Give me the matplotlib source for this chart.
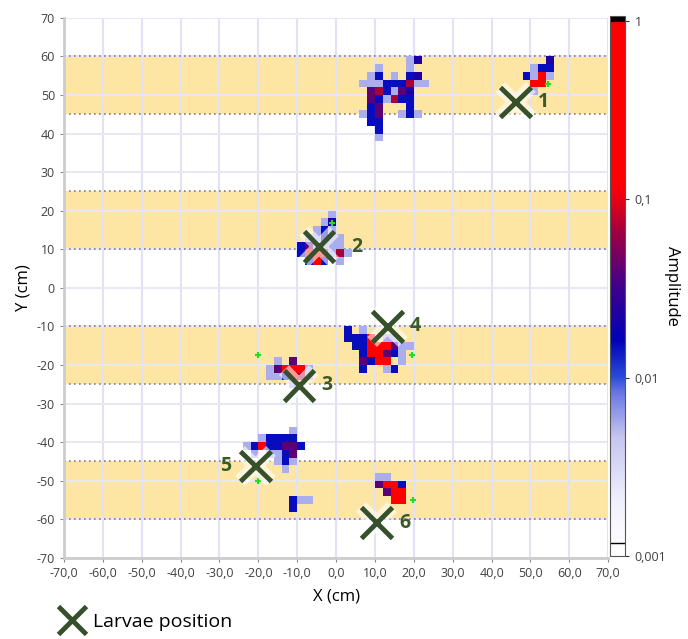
import numpy as np
import matplotlib
matplotlib.use("Agg")
import matplotlib.pyplot as plt
from matplotlib.colors import LinearSegmentedColormap, LogNorm
from matplotlib.lines import Line2D
import matplotlib.patheffects as pe

plt.rcParams['font.family'] = ['Open Sans', 'DejaVu Sans']

# amplitude levels used for the cells
LB = 0.0055  # light blue
B = 0.015    # blue
DB = 0.022   # dark blue
P = 0.04     # purple
DR = 0.07    # dark red
R = 0.3      # red

# cells: (x lower edge, y lower edge, amplitude), 2 cm grid
cells_top = [(18, 58, LB), (20, 58, DB),
             (10, 56, LB), (18, 56, LB),
             (8, 54, LB), (10, 54, B), (14, 54, LB), (18, 54, B), (20, 54, DB),
             (6, 52, LB), (8, 52, LB), (10, 52, LB), (12, 52, B), (14, 52, B), (16, 52, B),
             (18, 52, DR), (20, 52, LB), (22, 52, LB),
             (8, 50, P), (10, 50, DR), (12, 50, B), (14, 50, LB), (16, 50, P), (18, 50, DB),
             (8, 48, P), (10, 48, B), (12, 48, LB), (14, 48, DR), (16, 48, B), (18, 48, B),
             (8, 46, B), (10, 46, P), (18, 46, B),
             (6, 44, LB), (8, 44, B), (10, 44, P), (16, 44, LB), (18, 44, B), (20, 44, LB),
             (8, 42, B), (10, 42, B),
             (10, 40, B),
             (10, 38, LB)]
cells_1 = [(54, 58, DB),
           (50, 56, LB), (52, 56, B), (54, 56, B),
           (48, 54, B), (50, 54, LB), (52, 54, R), (54, 54, LB),
           (50, 52, R), (52, 52, R),
           (50, 50, LB)]
cells_2 = [(-2, 18, LB),
           (-4, 16, LB), (-2, 16, DB),
           (-6, 14, LB), (-4, 14, B), (-2, 14, LB),
           (-8, 12, LB), (-6, 12, LB), (-4, 12, B), (-2, 12, LB), (0, 12, LB),
           (-10, 10, B), (-8, 10, P), (-6, 10, LB), (-4, 10, LB), (-2, 10, LB), (0, 10, LB),
           (-10, 8, B), (-8, 8, R), (-6, 8, R), (-4, 8, R), (-2, 8, LB), (0, 8, DR), (2, 8, LB),
           (-8, 6, B), (-6, 6, R), (-4, 6, B), (0, 6, LB)]
cells_3 = [(-16, -20, LB), (-12, -20, P),
           (-18, -22, LB), (-16, -22, P), (-14, -22, R), (-12, -22, R), (-10, -22, R), (-8, -22, LB),
           (-18, -24, LB), (-16, -24, LB), (-14, -24, B), (-12, -24, R), (-10, -24, DR), (-8, -24, LB),
           (-12, -26, LB)]
cells_4 = [(2, -12, B), (6, -12, LB),
           (2, -14, B), (4, -14, B), (6, -14, B), (8, -14, R), (12, -14, LB), (14, -14, LB),
           (4, -16, B), (6, -16, B), (8, -16, R), (10, -16, R), (12, -16, R), (14, -16, P),
           (16, -16, LB), (18, -16, LB),
           (6, -18, B), (8, -18, R), (10, -18, R), (12, -18, P), (14, -18, B), (16, -18, LB),
           (6, -20, P), (8, -20, B), (10, -20, R), (12, -20, R), (16, -20, LB),
           (6, -22, B), (12, -22, LB), (14, -22, B)]
cells_5 = [(-12, -38, LB),
           (-20, -40, LB), (-18, -40, B), (-16, -40, B), (-14, -40, B), (-12, -40, B),
           (-24, -42, LB), (-22, -42, B), (-20, -42, R), (-18, -42, B), (-16, -42, B),
           (-14, -42, P), (-12, -42, P), (-10, -42, B),
           (-22, -44, LB), (-18, -44, LB), (-16, -44, LB), (-14, -44, B), (-12, -44, P),
           (-16, -46, LB), (-14, -46, B), (-12, -46, LB),
           (-14, -48, LB),
           (-12, -56, B), (-10, -56, LB), (-8, -56, LB), (-12, -58, B)]
cells_6 = [(10, -50, LB), (12, -50, LB),
           (10, -52, P), (12, -52, R), (14, -52, R), (16, -52, B),
           (12, -54, P), (14, -54, R), (16, -54, R),
           (14, -56, R), (16, -56, R)]

# larvae positions and labels
larvae_x = [46.2, -4.4, -9.5, 13.2, -20.8, 10.4]
larvae_y = [48.2, 10.7, -25.3, -10.0, -46.2, -60.9]
larvae_lbl = ['1', '2', '3', '4', '5', '6']
lbl_x = [53.3, 5.3, -2.3, 20.4, -28.3, 17.7]

# small green crosses
star_x = [54.6, -1.0, -20.2, 19.6, -20.0, 19.8]
star_y = [52.9, 16.8, -17.5, -17.5, -50.2, -55.1]

# sampling bands
bands = [(45, 60), (10, 25), (-25, -10), (-60, -45)]

# grid of values
edges = np.arange(-70, 72, 2)
Z = np.full((len(edges) - 1, len(edges) - 1), np.nan)
for cl in [cells_top, cells_1, cells_2, cells_3, cells_4, cells_5, cells_6]:
    for cx, cy, a in cl:
        Z[(cy + 70) // 2, (cx + 70) // 2] = a

cmap = LinearSegmentedColormap.from_list('amp', [
    (0.0, '#ffffff'), (0.10, '#f0f0fc'), (0.22, '#c4c4f0'), (0.30, '#6a78e2'),
    (0.333, '#2848d8'), (0.40, '#0000b8'), (0.50, '#40008c'), (0.60, '#a00040'),
    (0.665, '#ee0010'), (0.70, '#ff0000'), (0.988, '#ff0000'), (0.992, '#000000'),
    (1.0, '#000000')])
norm = LogNorm(vmin=0.001, vmax=1.07)

fig = plt.figure(figsize=(6.88, 6.39), dpi=100)
ax = fig.add_axes([0.093, 0.127, 0.791, 0.845])

for y0, y1 in bands:
    ax.axhspan(y0, y1, color='#fde5a4', zorder=0, lw=0)
for v in range(-70, 71, 10):
    ax.axvline(v, color='#e2e2f6', lw=1.5, zorder=1)
    ax.axhline(v, color='#e8e8f4', lw=1.5, zorder=1)
for y0, y1 in bands:
    ax.axhline(y0, color='#808080', ls=(0, (1, 2)), lw=1.2, zorder=2)
    ax.axhline(y1, color='#808080', ls=(0, (1, 2)), lw=1.2, zorder=2)

mesh = ax.pcolormesh(edges, edges, np.ma.masked_invalid(Z), cmap=cmap, norm=norm, zorder=3)

ax.plot(star_x, star_y, '+', color='#22dd22', ms=5, mew=1.5, zorder=4)

glow = [pe.withStroke(linewidth=10, foreground=(1, 1, 1, 0.6))]
ax.plot(larvae_x, larvae_y, 'x', color='#35502a', ms=22, mew=3.5, zorder=5,
        path_effects=glow)
for lx, ly, t in zip(lbl_x, larvae_y, larvae_lbl):
    ax.text(lx, ly, t, color='#3a5a28', fontsize=14, fontweight='bold',
            ha='center', va='center', zorder=6)

ax.set_xlim(-70, 70)
ax.set_ylim(-70, 70)
xt = np.arange(-70, 71, 10)
ax.set_xticks(xt)
ax.set_xticklabels([f'{v:.1f}'.replace('.', ',') for v in xt])
ax.set_yticks(xt)
ax.set_yticklabels([str(v) for v in xt])
ax.tick_params(labelsize=9, colors='#404040', length=3, color='#888888')
for s in ['top', 'right']:
    ax.spines[s].set_visible(False)
for s in ['left', 'bottom']:
    ax.spines[s].set_color('#cccccc')
    ax.spines[s].set_linewidth(2)
ax.set_xlabel('X (cm)', fontsize=12, labelpad=6)
ax.set_ylabel('Y (cm)', fontsize=12, labelpad=4)

cax = fig.add_axes([0.887, 0.130, 0.022, 0.845])
cb = fig.colorbar(mesh, cax=cax)
cb.set_ticks([1, 0.1, 0.01, 0.001])
cb.set_ticklabels(['1', '0,1', '0,01', '0,001'])
cb.ax.minorticks_off()
cb.ax.tick_params(labelsize=9, colors='#404040', length=3, color='#333333')
cb.outline.set_edgecolor('#555555')
cb.ax.axhline(0.00118, color='black', lw=1)
cb.set_label('Amplitude', rotation=270, fontsize=12, labelpad=10)

fig.legend([Line2D([], [], ls='none', marker='x', color='#35502a', ms=20, mew=3.5)],
           ['Larvae position'], loc='lower left', bbox_to_anchor=(0.065, -0.015),
           frameon=False, fontsize=14, handlelength=1.0, handletextpad=0.6)

fig.savefig('out.png', dpi=100)
